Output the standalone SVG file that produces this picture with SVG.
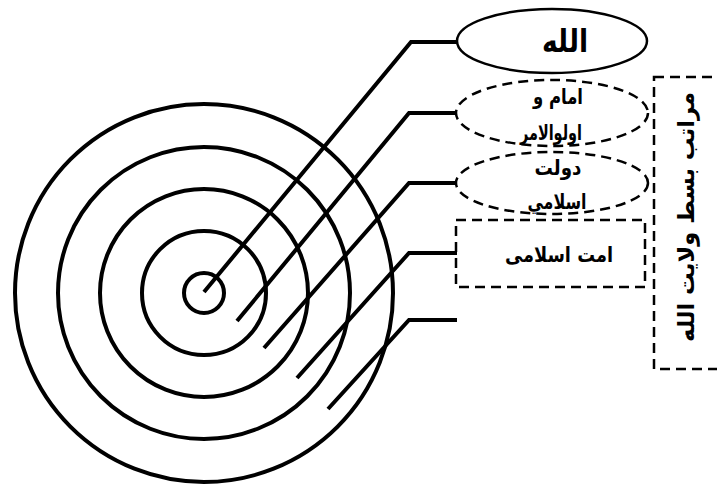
<svg xmlns="http://www.w3.org/2000/svg" width="717" height="486" viewBox="0 0 717 486">
<style>
.ring{fill:none;stroke:#000;stroke-width:4}
.conn{fill:none;stroke:#000;stroke-width:4;stroke-linejoin:miter}
.solid{fill:#fff;stroke:#000;stroke-width:2.5}
.dash{fill:none;stroke:#000;stroke-width:2.5;stroke-dasharray:10 6}
.t{font-family:"DejaVu Sans",sans-serif;font-weight:bold;fill:#000;text-anchor:middle;direction:rtl}
</style>
<rect width="717" height="486" fill="#fff"/>
<g id="rings">
<circle class="ring" cx="204" cy="293" r="189"/>
<circle class="ring" cx="204" cy="293" r="146"/>
<circle class="ring" cx="204" cy="293" r="104"/>
<circle class="ring" cx="204" cy="293" r="62"/>
<circle class="ring" cx="204" cy="293" r="20"/>
</g>
<g id="connectors">
<polyline class="conn" points="204,292 411,42 457,42"/>
<polyline class="conn" points="237,321 409,113 457,113"/>
<polyline class="conn" points="264,348 409,183 457,183"/>
<polyline class="conn" points="297,378 409,253 457,253"/>
<polyline class="conn" points="328,409 409,320 457,320"/>
</g>
<g id="outer-box">
<rect class="dash" x="654" y="77" width="70" height="292"/>
<text class="t" font-size="23" textLength="250" lengthAdjust="spacingAndGlyphs" transform="translate(694,217) rotate(-90)">مراتب بسط ولایت الله</text>
</g>
<g id="node-allah">
<ellipse class="solid" cx="552" cy="41" rx="95" ry="32"/>
<text class="t" x="565" y="52" font-size="32" textLength="46" lengthAdjust="spacingAndGlyphs">الله</text>
</g>
<g id="node-imam">
<ellipse class="dash" cx="552" cy="113" rx="96" ry="33"/>
<text class="t" x="558" y="104" font-size="21" textLength="50" lengthAdjust="spacingAndGlyphs">امام و</text>
<text class="t" x="551" y="140" font-size="21" textLength="62" lengthAdjust="spacingAndGlyphs">اولوالامر</text>
</g>
<g id="node-dowlat">
<ellipse class="dash" cx="552" cy="183" rx="96" ry="31"/>
<text class="t" x="558" y="175" font-size="21" textLength="47" lengthAdjust="spacingAndGlyphs">دولت</text>
<text class="t" x="557" y="209" font-size="21" textLength="59" lengthAdjust="spacingAndGlyphs">اسلامي</text>
</g>
<g id="node-ommat">
<rect class="dash" x="456" y="220" width="189" height="67"/>
<text class="t" x="559" y="262" font-size="21" textLength="108" lengthAdjust="spacingAndGlyphs">امت اسلامی</text>
</g>
</svg>
